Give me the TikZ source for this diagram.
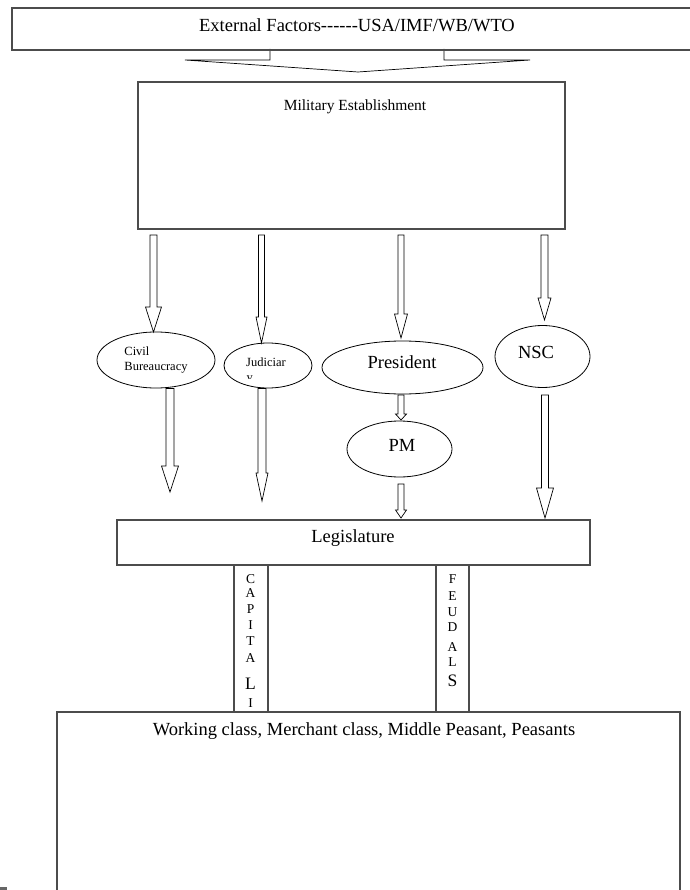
\documentclass[tikz,border=0pt]{standalone}
\usepackage{fontspec}
\setmainfont{Liberation Serif}
\usetikzlibrary{calc,shapes.geometric}
\tikzset{
  boxline/.style={draw=black!70, line width=1.1pt},
  blk/.style={draw=black, line width=0.7pt, fill=white, line join=miter},
  ell/.style={draw=black, line width=0.8pt, ellipse, inner sep=0pt},
  txt/.style={inner sep=0pt, font=\fontsize{18.5}{20}\selectfont},
  stxt/.style={inner sep=0pt, font=\fontsize{12.5}{15}\selectfont},
  letter/.style={inner sep=0pt, font=\fontsize{13.5}{14}\selectfont},
  bigletter/.style={inner sep=0pt, font=\fontsize{17.5}{18}\selectfont}
}
\newcommand\hy{\mbox{-}}
\newcommand\blkarrow[5]{%
  \draw[blk] let \p1=(#1), \p2=(#2) in
   (\x1-#3,\y1) -- (\x1-#3,\y2+#5) -- (\x1-#4,\y2+#5) -- (\x2,\y2)
   -- (\x1+#4,\y2+#5) -- (\x1+#3,\y2+#5) -- (\x1+#3,\y1) -- cycle;}
\begin{document}
\begin{tikzpicture}[x=1pt,y=-1pt]
\useasboundingbox (0,0) rectangle (689,890);
% big top arrow
\coordinate (ta1) at (270,49);
\coordinate (ta2) at (444,49);
\coordinate (ttip) at (358,72);
\draw[blk,fill=none] (ta1) -- (270,60) -- (185,60) -- (ttip) -- (530,60) -- (444,60) -- (ta2);
% top box
\draw[boxline] (694,50) -- (12,50) -- (12,8) -- (694,8);
\node[txt] (ext) at (357,25) {External Factors\hy\hy\hy\hy\hy\hy USA/IMF/WB/WTO};
% military
\draw[boxline] (138,82) rectangle (565,229);
\node[txt,font=\fontsize{15.5}{18}\selectfont] (mil) at (355,107) {Military Establishment};
% ellipses
\node[ell, minimum width=118pt, minimum height=56pt, align=left, stxt] (civ) at (156,360) {Civil\\Bureaucracy};
\node[ell, minimum width=88pt, minimum height=45pt] (jud) at (268,365.5) {};
\node[stxt] (judt) at (266,362) {Judiciar};
\begin{scope}
\clip (240,370) rectangle (260,378.5);
\node[stxt, anchor=base west] (judy) at (246.5,381.8) {y};
\end{scope}
\node[ell, minimum width=161pt, minimum height=53pt] (pres) at (402.5,367.5) {};
\node[txt] (prest) at (402,362) {President};
\node[ell, minimum width=95pt, minimum height=62pt] (nsc) at (542.5,356.5) {};
\node[txt] (nsct) at (536,352) {NSC};
\node[ell, minimum width=105pt, minimum height=56pt] (pm) at (399.5,449) {};
\node[txt] (pmt) at (402,445) {PM};
% arrows from military
\coordinate (a1s) at (153.5,235); \coordinate (a1e) at (153.5,332);
\coordinate (a2s) at (261.5,235); \coordinate (a2e) at (261.5,343);
\coordinate (a3s) at (401,235);   \coordinate (a3e) at (401,338);
\coordinate (a4s) at (544.5,235); \coordinate (a4e) at (544.5,320);
\blkarrow{a1s}{a1e}{3.5pt}{8pt}{25pt}
\blkarrow{a2s}{a2e}{3pt}{5.5pt}{26pt}
\blkarrow{a3s}{a3e}{3pt}{6.5pt}{24pt}
\blkarrow{a4s}{a4e}{3.5pt}{6.5pt}{22pt}
% lower arrows
\coordinate (b1s) at (170,388.5); \coordinate (b1e) at (170,492);
\coordinate (b2s) at (262,388.5); \coordinate (b2e) at (262,501);
\coordinate (b3s) at (401,395);   \coordinate (b3e) at (401,420);
\coordinate (b4s) at (401,484);   \coordinate (b4e) at (401,518);
\coordinate (b5s) at (545,395);   \coordinate (b5e) at (545,518);
\blkarrow{b1s}{b1e}{4pt}{8.5pt}{26pt}
\blkarrow{b2s}{b2e}{4pt}{6pt}{28pt}
\blkarrow{b3s}{b3e}{3pt}{5.5pt}{6pt}
\blkarrow{b4s}{b4e}{3pt}{5.5pt}{8pt}
\blkarrow{b5s}{b5e}{3.5pt}{8.5pt}{30pt}
% legislature
\draw[boxline] (117,520) rectangle (590,565);
\node[txt] (leg) at (353,538) {Legislature};
% strips
\draw[boxline] (234,565) rectangle (268,712);
\draw[boxline] (436,565) rectangle (469,712);
\foreach \l/\y/\s [count=\i] in {C/579.3/letter, A/593.3/letter, P/609.3/letter, I/625/letter, T/640.7/letter, A/658.3/letter, L/683.3/bigletter, I/702.7/letter}
  \node[\s] (cap\i) at (250.5,\y) {\l};
\foreach \l/\y/\s [count=\i] in {F/579.3/letter, E/596/letter, U/611.7/letter, D/627.3/letter, A/646.7/letter, L/662.3/letter, S/681/bigletter}
  \node[\s] (feu\i) at (452.5,\y) {\l};
% bottom box
\draw[boxline] (57,895) -- (57,712) -- (680,712) -- (680,895);
\node[txt] (bot) at (364,731) {Working class, Merchant class, Middle Peasant, Peasants};
% small mark
\fill[black!60] (0,887) rectangle (7,890);
\end{tikzpicture}
\end{document}
